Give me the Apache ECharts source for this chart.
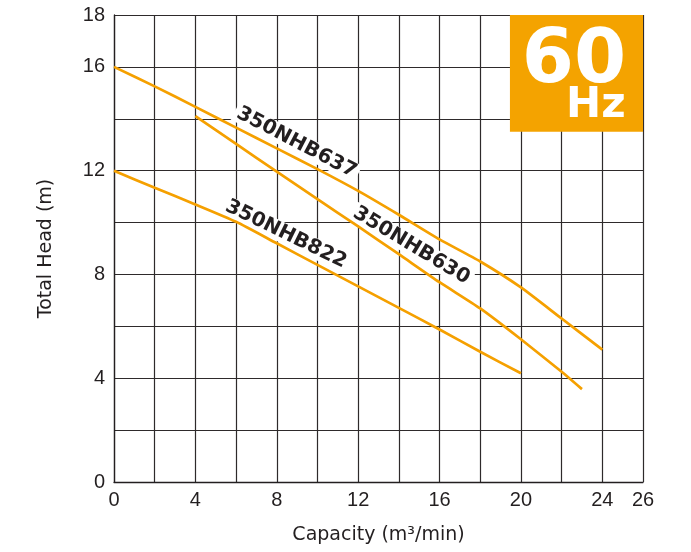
<!DOCTYPE html>
<html>
<head>
<meta charset="utf-8">
<script src="https://cdn.jsdelivr.net/npm/echarts@6/dist/echarts.min.js"></script>
<style>
html,body{margin:0;padding:0;background:#fff;}
#chart{width:691px;height:552px;}
</style>
</head>
<body>
<div id="chart"></div>
<script>
// Data
const capacity637 = [0, 2, 4, 6, 8, 10, 12, 14, 16, 18, 20, 22, 24];
const head637     = [16, 15.25, 14.46, 13.66, 12.86, 12.06, 11.22, 10.3, 9.35, 8.5, 7.5, 6.3, 5.1];
const capacity630 = [4, 6, 8, 10, 12, 14, 16, 18, 20, 22, 23];
const head630     = [14.1, 13.03, 11.96, 10.9, 9.85, 8.78, 7.7, 6.69, 5.5, 4.25, 3.58];
const capacity822 = [0, 2, 4, 6, 8, 10, 12, 14, 16, 18, 20];
const head822     = [12, 11.34, 10.7, 10.03, 9.2, 8.37, 7.54, 6.71, 5.88, 5.02, 4.19];
const seriesNames = ['350NHB637', '350NHB630', '350NHB822'];
const xTickLabels = [0, 4, 8, 12, 16, 20, 24, 26];
const yTickLabels = [0, 4, 8, 12, 16, 18];
// label anchor positions (data coords) and angles
const labelPos = [[8.97, 13.08], [14.62, 9.11], [8.45, 9.55]];
const labelAngle = [-27.5, -31, -26];
const badgeText = ['60', 'Hz'];
const badgePos = [[22.61, 16.15], [23.68, 14.5]];
const badgeArea = [[19.46, 18], [26, 13.5]];

const ORANGE = '#F5A000';
const INK = '#231f20';
const TICK_FONT = "'Liberation Sans Narrow', 'Liberation Sans', Arial, sans-serif";

function pairs(xs, ys) { return xs.map((x, i) => [x, ys[i]]); }

const datasets = [pairs(capacity637, head637), pairs(capacity630, head630), pairs(capacity822, head822)];

const series = datasets.map((d, i) => ({
  name: seriesNames[i],
  type: 'line',
  data: d,
  showSymbol: false,
  smooth: 0.2,
  z: 3,
  lineStyle: { color: ORANGE, width: 2.7 },
  markPoint: {
    symbol: 'circle', symbolSize: 0, silent: true, z: 2,
    data: [{
      coord: labelPos[i],
      label: {
        show: true, position: 'inside', formatter: seriesNames[i],
        rotate: labelAngle[i],
        fontFamily: 'DejaVu Sans', fontWeight: 'bold', fontSize: 20, color: INK,
        backgroundColor: '#ffffff', padding: [0, 3, 0, 3]
      }
    }]
  }
}));

series.push({
  type: 'line',
  data: [],
  markArea: {
    silent: true,
    itemStyle: { color: '#F4A300', opacity: 1 },
    data: [[{ coord: badgeArea[0] }, { coord: badgeArea[1] }]]
  },
  markPoint: {
    symbol: 'circle', symbolSize: 0, silent: true,
    data: badgeText.map((t, i) => ({
      coord: badgePos[i],
      label: {
        show: true, position: 'inside', formatter: t,
        fontFamily: 'DejaVu Sans', fontWeight: 'bold',
        fontSize: i === 0 ? 75 : 42, color: '#ffffff'
      }
    }))
  },
  z: 4
});

const chart = echarts.init(document.getElementById('chart'), null, { renderer: 'canvas' });
chart.setOption({
  animation: false,
  backgroundColor: '#ffffff',
  grid: { left: 114, right: 48, top: 15, bottom: 70, containLabel: false },
  xAxis: {
    type: 'value', min: 0, max: 26, interval: 2,
    name: 'Capacity (m³/min)', nameLocation: 'middle', nameGap: 44,
    nameTextStyle: { fontFamily: 'DejaVu Sans', fontSize: 19, color: INK },
    axisLine: { show: true, lineStyle: { color: INK, width: 1.3 } },
    axisTick: { show: false },
    axisLabel: {
      margin: 8, fontFamily: TICK_FONT, fontSize: 20, color: INK,
      formatter: v => xTickLabels.includes(v) ? String(v) : ''
    },
    splitLine: { show: true, lineStyle: { color: '#2e2a2b', width: 1.2 } }
  },
  yAxis: {
    type: 'value', min: 0, max: 18, interval: 2,
    name: 'Total Head (m)', nameLocation: 'middle', nameGap: 58, nameRotate: 90,
    nameTextStyle: { fontFamily: 'DejaVu Sans', fontSize: 19, color: INK },
    axisLine: { show: true, lineStyle: { color: INK, width: 1.3 } },
    axisTick: { show: false },
    axisLabel: {
      margin: 9, fontFamily: TICK_FONT, fontSize: 20, color: INK,
      formatter: v => yTickLabels.includes(v) ? String(v) : ''
    },
    splitLine: { show: true, lineStyle: { color: '#2e2a2b', width: 1.2 } }
  },
  series: series
});
</script>
</body>
</html>
